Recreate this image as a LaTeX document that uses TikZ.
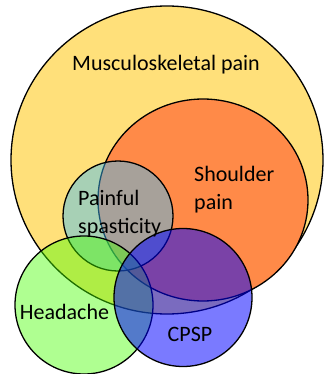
\documentclass[tikz,border=0pt]{standalone}
\usepackage{fontspec}
\setmainfont{Carlito}
\definecolor{msk}{RGB}{255,224,122}
\definecolor{shp}{RGB}{255,138,72}
\definecolor{spa}{RGB}{60,190,255}
\definecolor{hea}{RGB}{70,255,0}
\definecolor{cps}{RGB}{0,0,255}
\tikzset{
  venn/.style={draw=black, line width=1.3pt},
  lab/.style={font=\fontsize{22}{27.5}\selectfont, text=black, inner sep=0pt},
}
\begin{document}
\begin{tikzpicture}[x=1pt,y=-1pt]
\useasboundingbox[fill=white] (0,0) rectangle (324,374);
\draw[venn, fill=msk] (167,160) ellipse[x radius=156, y radius=154];
\draw[venn, fill=shp] (203,200) ellipse[x radius=105, y radius=101];
\draw[venn, fill=spa, fill opacity=0.45] (118,216) circle[radius=55];
\draw[venn, fill=hea, fill opacity=0.43] (84,305) circle[radius=69];
\draw[venn, fill=cps, fill opacity=0.52] (183,297.5) circle[radius=69];
\node[lab] (msk) at (166,65) {Musculoskeletal pain};
\node[lab, anchor=west, align=left] (shp) at (194,189.5) {Shoulder\\pain};
\node[lab, anchor=west, align=left] (spa) at (78,213.5) {Painful\\spasticity};
\node[lab] (hea) at (64.5,312) {Headache};
\node[lab] (cps) at (190,334) {CPSP};
\end{tikzpicture}
\end{document}
